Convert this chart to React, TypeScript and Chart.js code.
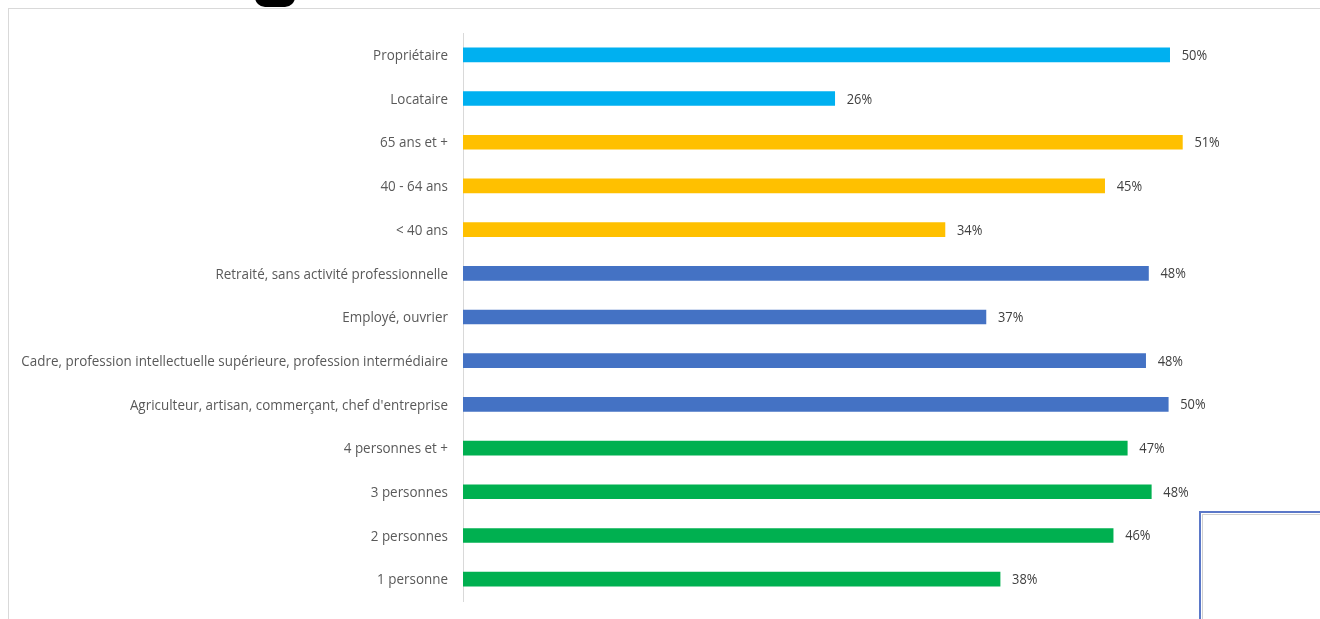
import React, { useEffect, useRef } from "react";
import { Chart, registerables } from "chart.js";

Chart.register(...registerables);

const categories = [
  "Propriétaire",
  "Locataire",
  "65 ans et +",
  "40 - 64 ans",
  "< 40 ans",
  "Retraité, sans activité professionnelle",
  "Employé, ouvrier",
  "Cadre, profession intellectuelle supérieure, profession intermédiaire",
  "Agriculteur, artisan, commerçant, chef d'entreprise",
  "4 personnes et +",
  "3 personnes",
  "2 personnes",
  "1 personne",
];

const values = [50.0, 26.3, 50.9, 45.4, 34.1, 48.5, 37.0, 48.3, 49.9, 47.0, 48.7, 46.0, 38.0];
const valueLabels = ["50%", "26%", "51%", "45%", "34%", "48%", "37%", "48%", "50%", "47%", "48%", "46%", "38%"];

const groupColors = {
  logement: "#00B0F0",
  age: "#FFC000",
  csp: "#4472C4",
  foyer: "#00B050",
};
const barGroups = [
  "logement", "logement",
  "age", "age", "age",
  "csp", "csp", "csp", "csp",
  "foyer", "foyer", "foyer", "foyer",
];

const FONT = "'Open Sans', sans-serif";
const SQUEEZE = 0.895;

const textPlugin = {
  id: "condensedText",
  afterDatasetsDraw(chart: any) {
    const ctx = chart.ctx;
    const yScale = chart.scales.y;
    ctx.save();
    ctx.font = `15px ${FONT}`;
    ctx.fillStyle = "#595959";
    ctx.textAlign = "right";
    ctx.textBaseline = "middle";
    categories.forEach((label, i) => {
      const y = yScale.getPixelForTick(i);
      const xRight = yScale.right - 15;
      ctx.save();
      ctx.translate(xRight, y + 1);
      ctx.scale(SQUEEZE, 1);
      ctx.fillText(label, 0, 0);
      ctx.restore();
    });
    ctx.restore();

    const meta = chart.getDatasetMeta(0);
    ctx.save();
    ctx.font = `14px ${FONT}`;
    ctx.fillStyle = "#404040";
    ctx.textAlign = "left";
    ctx.textBaseline = "middle";
    meta.data.forEach((bar: any, i: number) => {
      ctx.save();
      ctx.translate(bar.x + 12, bar.y + 1);
      ctx.scale(0.92, 1);
      ctx.fillText(valueLabels[i], 0, 0);
      ctx.restore();
    });
    ctx.restore();
  },
};

export default function App() {
  const ref = useRef<HTMLCanvasElement | null>(null);
  useEffect(() => {
    if (!ref.current) return;
    const chart = new Chart(ref.current, {
      type: "bar",
      data: {
        labels: categories,
        datasets: [
          {
            data: values,
            backgroundColor: barGroups.map((g) => (groupColors as any)[g]),
            barThickness: 14,
          },
        ],
      },
      options: {
        indexAxis: "y",
        animation: false,
        responsive: false,
        maintainAspectRatio: false,
        layout: { padding: { top: 33, bottom: 18, right: 9, left: 0 } },
        plugins: { legend: { display: false }, tooltip: { enabled: false } },
        scales: {
          x: { display: false, min: 0, max: 60 },
          y: {
            grid: { display: false },
            border: { display: true, color: "#d9d9d9", width: 1 },
            ticks: { display: false },
            afterFit(scale: any) {
              scale.width = 463;
            },
          },
        },
      },
      plugins: [textPlugin],
    });
    return () => chart.destroy();
  }, []);

  return (
    <div style={{ position: "fixed", left: 0, top: 0, width: 1320, height: 619, background: "#fff", overflow: "hidden" }}>
      <div style={{ position: "absolute", left: 8, top: 8, width: 1320, height: 620, borderTop: "1px solid #d9d9d9", borderLeft: "1px solid #d9d9d9" }} />
      <div style={{ position: "absolute", left: 255, top: -20, width: 40, height: 27, background: "#000", borderRadius: 10 }} />
      <canvas ref={ref} width={1320} height={619} style={{ position: "absolute", left: 0, top: 0 }} />
      <div style={{ position: "absolute", left: 1199, top: 511, width: 200, height: 200, border: "2px solid #5b78c8", boxSizing: "border-box" }}>
        <div style={{ position: "absolute", left: 1, top: 1, right: 0, bottom: 0, border: "1px solid #d0d0d0" }} />
      </div>
    </div>
  );
}
